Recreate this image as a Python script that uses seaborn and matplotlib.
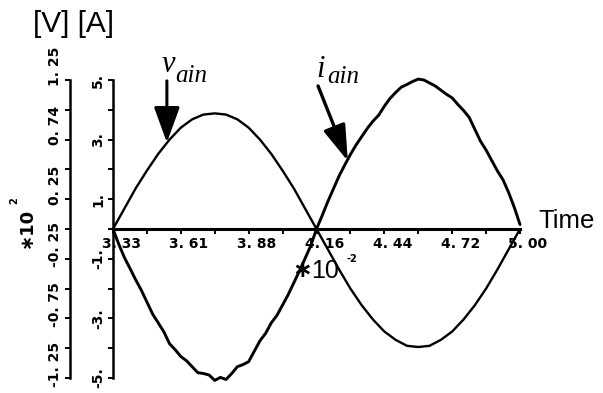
import numpy as np
import pandas as pd
import matplotlib
matplotlib.use("Agg")
import matplotlib.pyplot as plt
from matplotlib.transforms import ScaledTranslation
import seaborn as sns

# One 60 Hz cycle; time axis in units of 1e-2 s
t_start, t_end = 10 / 3, 5.0

# Phase-a input voltage (x10^2 V), one sample every 10 degrees of the cycle
v_ain = [0.00, 0.17, 0.34, 0.49, 0.63, 0.75, 0.85, 0.92, 0.96, 0.97,
         0.96, 0.92, 0.85, 0.75, 0.63, 0.49, 0.34, 0.17, 0.00,
         -0.17, -0.34, -0.50, -0.64, -0.76, -0.86, -0.93, -0.98, -0.99,
         -0.98, -0.93, -0.86, -0.76, -0.64, -0.50, -0.34, -0.17, 0.00]

# Phase-a input current (A), one sample every 5 degrees of the cycle
i_ain = [0.00, -0.50, -0.95, -1.32, -1.70, -2.05, -2.45, -2.85, -3.15, -3.45,
         -3.85, -4.05, -4.28, -4.42, -4.62, -4.82, -4.85, -4.90, -5.08, -4.98,
         -5.05, -4.85, -4.62, -4.55, -4.45, -4.10, -3.75, -3.50, -3.15, -2.90,
         -2.55, -2.20, -1.80, -1.40, -0.98, -0.55, 0.00,
         0.45, 0.92, 1.35, 1.78, 2.15, 2.50, 2.82, 3.10, 3.38,
         3.62, 3.82, 4.12, 4.38, 4.58, 4.76, 4.85, 4.95, 5.03, 5.00,
         4.90, 4.80, 4.66, 4.52, 4.40, 4.18, 3.98, 3.75, 3.35, 2.95,
         2.65, 2.30, 1.95, 1.65, 1.22, 0.72, 0.15]

time_ticks = [10 / 3, 3.6111, 3.8889, 4.1667, 4.4444, 4.7222, 5.0]
time_labels = ["3. 33", "3. 61", "3. 88", "4. 16", "4. 44", "4. 72", "5. 00"]
time_minor = [3.4722, 3.75, 4.0278, 4.3056, 4.5833, 4.8611]

amp_ticks = [5, 3, 1, -1, -3, -5]
amp_labels = ["5.", "3.", "1.", "-1.", "-3.", "-5."]
amp_minor = [4, 2, 0, -2, -4]

volt_ticks = [1.25, 0.75, 0.25, -0.25, -0.75, -1.25]
volt_labels = ["1. 25", "0. 74", "0. 25", "-0. 25", "-0. 75", "-1. 25"]
volt_minor = [1.0, 0.5, 0.0, -0.5, -1.0]

volt_df = pd.DataFrame({"t": np.linspace(t_start, t_end, len(v_ain)), "v": v_ain})
amp_df = pd.DataFrame({"t": np.linspace(t_start, t_end, len(i_ain)), "i": i_ain})

sns.set_theme(style="ticks", rc={
    "axes.edgecolor": "black", "text.color": "black",
    "xtick.color": "black", "ytick.color": "black",
})
plt.rcParams["font.family"] = ["DejaVu Sans"]

W, H = 603, 393
fig = plt.figure(figsize=(W / 100, H / 100), dpi=100)


def at(px, py):
    return px / W, 1 - py / H


ax = fig.add_axes([113 / W, 1 - 378 / H, 407 / W, 298 / H])
ax2 = ax.twinx()

sns.lineplot(data=amp_df, x="t", y="i", ax=ax, color="black", lw=2.1,
             estimator=None, clip_on=False)
sns.lineplot(data=volt_df, x="t", y="v", ax=ax2, color="black", lw=1.7,
             estimator=None, clip_on=False)

ax.set_xlim(t_start, t_end)
ax.set_ylim(-5, 5)
ax2.set_ylim(-1.25, 1.25)
for a in (ax, ax2):
    a.set_xlabel("")
    a.set_ylabel("")

# current axis on the left edge, time axis through zero
ax.spines["top"].set_visible(False)
ax.spines["right"].set_visible(False)
ax.spines["left"].set_linewidth(1.8)
ax.spines["bottom"].set_position(("data", 0))
ax.spines["bottom"].set_linewidth(2.2)

# voltage axis offset further left
for s in ("top", "right", "bottom"):
    ax2.spines[s].set_visible(False)
ax2.spines["left"].set_visible(True)
ax2.spines["left"].set_position(("axes", -43 / 407))
ax2.spines["left"].set_linewidth(1.8)
ax2.yaxis.tick_left()

bold = dict(fontweight="bold", fontsize=10)
ax.set_xticks(time_ticks, time_labels, **bold)
ax.set_xticks(time_minor, minor=True)
ax.set_yticks(amp_ticks, amp_labels, rotation=90, va="center", **bold)
ax.set_yticks(amp_minor, minor=True)
ax2.set_yticks(volt_ticks, volt_labels, rotation=90, va="center", **bold)
ax2.set_yticks(volt_minor, minor=True)

ax.tick_params(axis="x", which="both", direction="out", length=3.6,
               width=1.4, pad=2.5)
ax.tick_params(axis="y", which="both", direction="out", length=3.6,
               width=1.4, pad=2)
ax2.tick_params(axis="y", which="both", direction="out", length=3.6,
                width=1.4, pad=2, left=True, right=False,
                labelleft=True, labelright=False)

# voltage labels sit a little above their ticks, time labels a little right
lift = ScaledTranslation(0, 14 / 100, fig.dpi_scale_trans)
for lbl in ax2.get_yticklabels():
    lbl.set_transform(lbl.get_transform() + lift)
nudge = ScaledTranslation(8 / 100, 0, fig.dpi_scale_trans)
for lbl in ax.get_xticklabels():
    lbl.set_transform(lbl.get_transform() + nudge)

# arrows pointing at the two waveforms
ax.annotate("", xy=(3.554, 2.9), xytext=(3.554, 4.97),
            arrowprops=dict(arrowstyle="-|>,head_length=1.1,head_width=0.4",
                            mutation_scale=20, lw=2.2, color="black",
                            shrinkA=0, shrinkB=0),
            annotation_clip=False)
ax.annotate("", xy=(4.295, 2.28), xytext=(4.173, 4.80),
            arrowprops=dict(arrowstyle="-|>,head_length=1.1,head_width=0.35",
                            mutation_scale=20, lw=2.4, color="black",
                            shrinkA=0, shrinkB=0),
            annotation_clip=False)

serif = dict(family="Liberation Serif", style="italic", ha="left", va="baseline")
fig.text(*at(162, 72), "v", fontsize=22, **serif)
fig.text(*at(175, 82), "ain", fontsize=18, **serif)
fig.text(*at(316, 77), "i", fontsize=22, **serif)
fig.text(*at(327, 83), "ain", fontsize=18, **serif)

fig.text(*at(33, 32), "[V] [A]", fontsize=21.5, family="Liberation Sans",
         ha="left", va="baseline")
fig.text(*at(538, 228), "Time", fontsize=18.5, family="Liberation Sans",
         ha="left", va="baseline")

# time multiplier
fig.text(*at(302, 270), "\u2217", fontsize=17, fontweight="bold",
         ha="center", va="center")
fig.text(*at(311, 278), "10", fontsize=18, family="Liberation Sans",
         ha="left", va="baseline")
fig.text(*at(346, 262), "-2", fontsize=7, fontweight="bold",
         ha="left", va="baseline")

# voltage multiplier
fig.text(*at(27, 228), "\u221710", fontsize=13, fontweight="bold",
         rotation=90, ha="center", va="center")
fig.text(*at(14, 201), "2", fontsize=7, fontweight="bold",
         rotation=90, ha="center", va="center")

fig.savefig("out.png", dpi=100, facecolor="white")
